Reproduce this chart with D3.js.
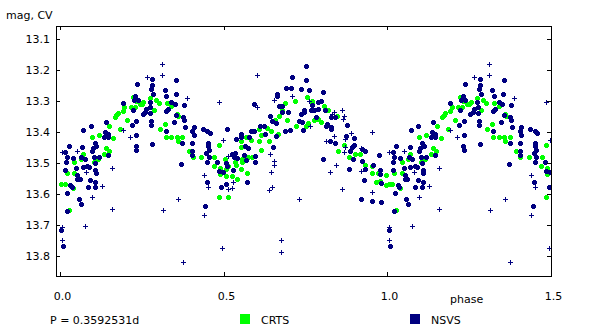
<!DOCTYPE html>
<html>
<head>
<meta charset="utf-8">
<script src="https://cdn.jsdelivr.net/npm/d3@7"></script>
<style>
  html, body { margin: 0; padding: 0; background: #fff; }
  svg { display: block; font-family: "DejaVu Sans", Verdana, sans-serif; }
</style>
</head>
<body>
<svg id="chart" width="600" height="334"></svg>
<script>
// Phase-folded light curve, phases in [0, 1); points with phase < 0.5 are repeated at phase + 1.
const periodLabel = "P = 0.3592531d";
const phaseTicks = [0.0, 0.5, 1.0, 1.5];
const magTicks = [13.1, 13.2, 13.3, 13.4, 13.5, 13.6, 13.7, 13.8];
const seriesNames = ["CRTS", "NSVS"];

// CRTS photometry [phase, mag]
const crts = [
  [0.223,13.288],[0.231,13.299],[0.255,13.304],[0.243,13.309],[0.251,13.309],[0.274,13.290],[0.292,13.298],[0.302,13.306],[0.326,13.307],[0.216,13.319],
  [0.228,13.319],[0.197,13.318],[0.192,13.331],[0.286,13.330],[0.177,13.339],[0.172,13.344],[0.167,13.352],[0.206,13.360],[0.320,13.373],[0.151,13.380],
  [0.184,13.389],[0.306,13.389],[0.323,13.417],[0.118,13.409],[0.097,13.417],[0.163,13.418],[0.141,13.451],[0.149,13.460],[0.133,13.472],[0.069,13.470],
  [0.064,13.486],[0.116,13.488],[0.044,13.498],[0.103,13.498],[0.020,13.531],[0.044,13.531],[0.004,13.569],[0.014,13.569],[0.039,13.581],[0.028,13.650],
  [0.340,13.317],[0.358,13.341],[0.362,13.350],[0.340,13.417],[0.357,13.417],[0.374,13.417],[0.360,13.430],[0.393,13.460],[0.432,13.479],[0.471,13.479],
  [0.485,13.441],[0.554,13.449],[0.554,13.430],[0.569,13.416],[0.585,13.425],[0.607,13.430],[0.615,13.409],[0.608,13.390],[0.631,13.387],[0.646,13.398],
  [0.665,13.407],[0.656,13.360],[0.668,13.350],[0.639,13.430],[0.615,13.457],[0.574,13.479],[0.587,13.479],[0.505,13.486],[0.406,13.479],
  [0.556,13.486],[0.556,13.497],[0.534,13.498],[0.470,13.508],[0.488,13.516],[0.508,13.519],[0.513,13.511],[0.552,13.519],[0.539,13.506],[0.572,13.531],
  [0.488,13.536],[0.508,13.541],[0.524,13.541],[0.542,13.551],[0.485,13.608],[0.514,13.608],
  [0.687,13.306],[0.717,13.299],[0.756,13.288],[0.771,13.299],[0.771,13.306],[0.806,13.317],[0.819,13.330],[0.845,13.350],[0.678,13.330],[0.692,13.360],
  [0.776,13.360],[0.787,13.358],[0.796,13.369],[0.758,13.371],[0.753,13.380],[0.720,13.380],[0.850,13.460],[0.867,13.441],[0.901,13.471],[0.916,13.470],
  [0.882,13.480],[0.931,13.506],[0.952,13.509],[0.954,13.531],[0.970,13.531],[0.965,13.560],[0.995,13.540],[0.995,13.570],[0.979,13.557]
];

// NSVS photometry, good measurements [phase, mag]
const nsvsGood = [
  [0.282,13.228],[0.236,13.244],[0.282,13.249],[0.279,13.260],[0.320,13.265],[0.325,13.283],[0.285,13.278],[0.230,13.283],[0.225,13.297],[0.238,13.297],
  [0.274,13.304],[0.276,13.319],[0.264,13.327],[0.261,13.335],[0.254,13.341],[0.276,13.339],[0.324,13.333],[0.329,13.326],[0.192,13.308],[0.222,13.330],
  [0.233,13.363],[0.279,13.363],[0.279,13.379],[0.219,13.379],[0.141,13.367],[0.095,13.382],[0.071,13.395],[0.136,13.401],[0.146,13.406],[0.133,13.416],
  [0.146,13.416],[0.233,13.411],[0.282,13.440],[0.231,13.444],[0.233,13.457],[0.106,13.436],[0.100,13.452],[0.098,13.460],[0.111,13.444],[0.028,13.444],
  [0.016,13.463],[0.020,13.479],[0.039,13.485],[0.068,13.449],[0.104,13.480],[0.118,13.480],[0.075,13.487],[0.065,13.479],[0.146,13.473],[0.017,13.498],
  [0.106,13.499],[0.083,13.508],[0.090,13.514],[0.070,13.514],[0.050,13.516],[0.016,13.522],[0.108,13.522],[0.109,13.532],[0.053,13.540],[0.053,13.551],
  [0.060,13.551],[0.093,13.553],[0.108,13.560],[0.032,13.570],[0.036,13.577],[0.086,13.577],[0.106,13.577],[0.022,13.595],[0.057,13.615],[0.063,13.631],
  [0.020,13.654],[0.004,13.716],[0.008,13.767],
  [0.355,13.231],[0.353,13.278],[0.340,13.304],[0.350,13.311],[0.378,13.314],[0.355,13.344],[0.376,13.352],[0.378,13.360],[0.347,13.369],[0.381,13.383],
  [0.323,13.396],[0.408,13.383],[0.404,13.398],[0.408,13.409],[0.437,13.389],[0.450,13.398],[0.457,13.403],[0.511,13.389],[0.452,13.434],[0.404,13.434],
  [0.374,13.434],[0.404,13.460],[0.404,13.473],[0.455,13.457],[0.447,13.466],[0.454,13.481],[0.537,13.422],[0.552,13.406],[0.552,13.416],[0.577,13.416],
  [0.583,13.398],[0.593,13.396],[0.610,13.380],[0.623,13.380],[0.641,13.350],[0.649,13.366],[0.659,13.371],[0.664,13.285],[0.664,13.277],[0.592,13.311],
  [0.668,13.317],[0.564,13.444],[0.574,13.452],[0.562,13.473],[0.595,13.477],[0.625,13.406],[0.661,13.414],[0.651,13.447],[0.534,13.468],[0.524,13.471],
  [0.531,13.482],[0.542,13.485],[0.452,13.444],
  [0.371,13.503],[0.450,13.498],[0.481,13.497],[0.508,13.500],[0.510,13.508],[0.569,13.490],[0.595,13.498],[0.485,13.524],[0.498,13.529],[0.528,13.522],
  [0.448,13.560],[0.506,13.567],[0.493,13.576],[0.572,13.560],[0.444,13.638],
  [0.751,13.188],[0.710,13.224],[0.751,13.233],[0.690,13.259],[0.707,13.259],[0.735,13.263],[0.760,13.266],[0.802,13.270],[0.677,13.317],[0.678,13.334],
  [0.697,13.337],[0.735,13.341],[0.746,13.328],[0.746,13.335],[0.768,13.328],[0.776,13.330],[0.787,13.325],[0.797,13.300],[0.787,13.302],[0.770,13.312],
  [0.811,13.328],[0.827,13.352],[0.839,13.352],[0.783,13.353],[0.729,13.363],[0.738,13.369],[0.817,13.374],[0.814,13.380],[0.829,13.384],[0.829,13.390],
  [0.878,13.376],[0.743,13.395],[0.702,13.393],[0.687,13.396],[0.875,13.412],[0.898,13.418],[0.839,13.434],[0.824,13.430],[0.892,13.447],[0.898,13.441],
  [0.924,13.455],[0.931,13.460],[0.885,13.460],[0.974,13.473],[0.803,13.488],[0.894,13.488],
  [0.923,13.494],[0.955,13.506],[0.882,13.519],[0.931,13.519],[0.977,13.522],[0.977,13.535],[0.928,13.554],[0.982,13.565],[0.919,13.616],[0.952,13.621],[0.982,13.624]
];

// NSVS photometry, flagged measurements [phase, mag]
const nsvsFlagged = [
  [0.311,13.180],[0.311,13.215],[0.265,13.222],[0.192,13.393],[0.213,13.416],[0.006,13.465],[0.051,13.460],[0.158,13.516],[0.080,13.529],[0.128,13.575],
  [0.097,13.610],[0.158,13.649],[0.314,13.651],[0.076,13.703],[0.006,13.707],[0.006,13.749],
  [0.602,13.216],[0.388,13.290],[0.486,13.303],[0.602,13.319],[0.654,13.298],[0.498,13.427],[0.513,13.476],[0.641,13.471],
  [0.654,13.493],[0.654,13.507],[0.646,13.529],[0.440,13.539],[0.452,13.578],[0.527,13.562],[0.525,13.581],[0.513,13.584],[0.648,13.578],[0.639,13.588],
  [0.360,13.617],[0.440,13.668],[0.495,13.775],[0.376,13.818],
  [0.709,13.283],[0.761,13.301],[0.837,13.334],[0.831,13.341],[0.862,13.330],[0.868,13.347],[0.865,13.358],[0.765,13.380],[0.837,13.414],[0.814,13.428],
  [0.872,13.422],[0.888,13.403],[0.952,13.400],[0.870,13.449],[0.868,13.463],[0.919,13.452],
  [0.842,13.506],[0.825,13.529],[0.920,13.525],[0.860,13.584],[0.952,13.594],[0.730,13.616],[0.676,13.749],[0.676,13.788]
];

const colors = { CRTS: "#00ff00", NSVS: "#000080" };

const svg = d3.select("#chart");

// plot box and scales (magnitudes increase downward)
const phaseDomain = [-0.0122, 1.5];
const magDomain = [13.0585, 13.867];
const x = d3.scaleLinear().domain(phaseDomain).rangeRound([56, 551]);
const y = d3.scaleLinear().domain(magDomain).rangeRound([26, 277]);

// fold: repeat the first half cycle after phase 1
const unfold = pts => pts.concat(pts.filter(d => d[0] + 1 <= 1.5).map(d => [d[0] + 1, d[1]]));

// plus-shaped markers, arm half-width b, half-extent a
const plusSymbol = (a, b) => ({
  draw(ctx) {
    ctx.moveTo(-b, -a); ctx.lineTo(b, -a); ctx.lineTo(b, -b); ctx.lineTo(a, -b);
    ctx.lineTo(a, b); ctx.lineTo(b, b); ctx.lineTo(b, a); ctx.lineTo(-b, a);
    ctx.lineTo(-b, b); ctx.lineTo(-a, b); ctx.lineTo(-a, -b); ctx.lineTo(-b, -b);
    ctx.closePath();
  }
});
const bigMarker = d3.symbol().type(plusSymbol(2.5, 1.5))();
const smallMarker = d3.symbol().type(plusSymbol(2.5, 0.5))();

const clipId = "plotclip";
svg.append("clipPath").attr("id", clipId).append("rect")
  .attr("x", x(phaseDomain[0])).attr("y", y(magDomain[0]))
  .attr("width", x(phaseDomain[1]) - x(phaseDomain[0]) + 1)
  .attr("height", y(magDomain[1]) - y(magDomain[0]));

const plot = svg.append("g").attr("clip-path", `url(#${clipId})`).attr("shape-rendering", "crispEdges");

function drawSeries(data, marker, color) {
  plot.append("g").selectAll("path").data(unfold(data)).join("path")
    .attr("d", marker)
    .attr("fill", color)
    .attr("transform", d => `translate(${x(d[0]) + 0.5},${y(d[1]) + 0.5})`);
}
drawSeries(crts, bigMarker, colors.CRTS);
drawSeries(nsvsGood, bigMarker, colors.NSVS);
drawSeries(nsvsFlagged, smallMarker, colors.NSVS);

// frame
svg.append("rect")
  .attr("x", x(phaseDomain[0]) + 0.5).attr("y", y(magDomain[0]) + 0.5)
  .attr("width", x(phaseDomain[1]) - x(phaseDomain[0]))
  .attr("height", y(magDomain[1]) - y(magDomain[0]) - 1)
  .attr("fill", "none").attr("stroke", "#000").attr("stroke-width", 1)
  .attr("shape-rendering", "crispEdges");

const fmt = d3.format(".1f");
const styleAxis = g => {
  g.select(".domain").remove();
  g.selectAll("line").attr("stroke", "#000").attr("shape-rendering", "crispEdges");
  g.selectAll("text").attr("font-size", 11).attr("fill", "#000");
  g.attr("font-family", null).attr("font-size", null);
};

svg.append("g").attr("transform", `translate(${x(phaseDomain[0])},0)`)
  .call(d3.axisLeft(y).tickValues(magTicks).tickFormat(fmt).tickSizeInner(-4).tickSizeOuter(0).tickPadding(6))
  .call(styleAxis);
svg.append("g").attr("transform", `translate(${x(phaseDomain[1])},0)`)
  .call(d3.axisRight(y).tickValues(magTicks).tickFormat("").tickSizeInner(-4).tickSizeOuter(0))
  .call(styleAxis);
svg.append("g").attr("transform", `translate(0,${y(magDomain[1]) - 1})`)
  .call(d3.axisBottom(x).tickValues(phaseTicks).tickFormat(fmt).tickSizeInner(-4).tickSizeOuter(0).tickPadding(16))
  .call(styleAxis)
  .call(g => g.selectAll("text").attr("dx", 2));
svg.append("g").attr("transform", `translate(0,${y(magDomain[0])})`)
  .call(d3.axisTop(x).tickValues(phaseTicks).tickFormat("").tickSizeInner(-4).tickSizeOuter(0))
  .call(styleAxis);

// axis titles
svg.append("text").attr("x", 6).attr("y", 19).attr("font-size", 11).attr("fill", "#000").text("mag, CV");
svg.append("text").attr("x", 450).attr("y", 303).attr("font-size", 11).attr("fill", "#000").text("phase");

// period and legend
const legendY = 324;
svg.append("text").attr("x", 50).attr("y", legendY).attr("font-size", 11).attr("fill", "#000").text(periodLabel);
const legendX = [240, 410];
seriesNames.forEach((name, i) => {
  svg.append("rect").attr("x", legendX[i]).attr("y", legendY - 10).attr("width", 10).attr("height", 10)
    .attr("fill", colors[name]);
  svg.append("text").attr("x", legendX[i] + 21).attr("y", legendY).attr("font-size", 11).attr("fill", "#000").text(name);
});
</script>
</body>
</html>
